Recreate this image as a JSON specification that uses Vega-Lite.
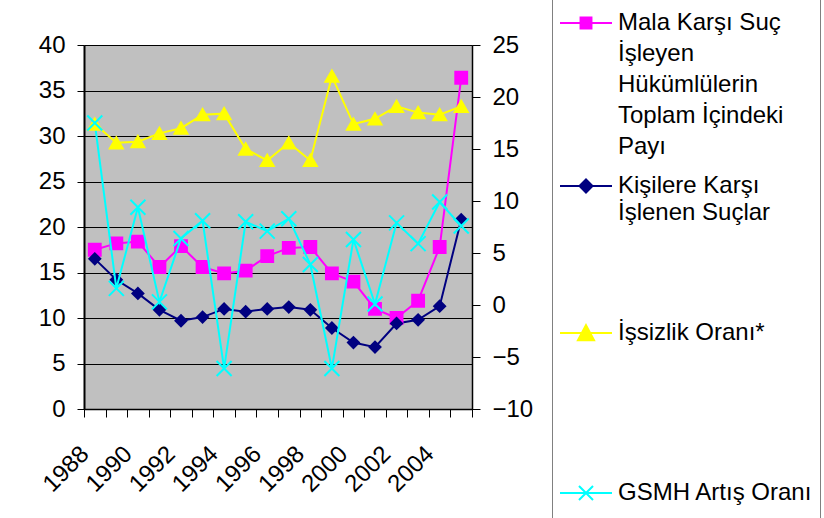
{
  "$schema": "https://vega.github.io/schema/vega-lite/v6.json",
  "width": 388,
  "height": 364,
  "autosize": {"type": "none"},
  "padding": {"left": 84, "top": 45, "right": 352, "bottom": 109},
  "background": "white",
  "view": {"fill": "#C0C0C0", "stroke": "#808080"},
  "config": {
    "axis": {"labelFont": "Liberation Sans", "labelFontSize": 24, "labelColor": "black", "domainColor": "black", "tickColor": "black", "titleFont": "Liberation Sans"},
    "legend": {"labelFont": "Liberation Sans", "labelFontSize": 24, "labelColor": "black"}
  },
  "data": {"values": [
    {"year": 1988, "mala": 17.5, "kisi": 16.5, "issiz": 17.4, "gsmh": 17.5},
    {"year": 1989, "mala": 18.2, "kisi": 14.2, "issiz": 15.6, "gsmh": 1.6},
    {"year": 1990, "mala": 18.4, "kisi": 12.7, "issiz": 15.7, "gsmh": 9.4},
    {"year": 1991, "mala": 15.6, "kisi": 10.9, "issiz": 16.5, "gsmh": 0.3},
    {"year": 1992, "mala": 17.9, "kisi": 9.7, "issiz": 17.0, "gsmh": 6.4},
    {"year": 1993, "mala": 15.6, "kisi": 10.1, "issiz": 18.3, "gsmh": 8.1},
    {"year": 1994, "mala": 14.9, "kisi": 11.0, "issiz": 18.4, "gsmh": -6.1},
    {"year": 1995, "mala": 15.2, "kisi": 10.7, "issiz": 15.0, "gsmh": 8.0},
    {"year": 1996, "mala": 16.8, "kisi": 11.0, "issiz": 13.9, "gsmh": 7.1},
    {"year": 1997, "mala": 17.7, "kisi": 11.2, "issiz": 15.6, "gsmh": 8.3},
    {"year": 1998, "mala": 17.8, "kisi": 10.9, "issiz": 13.9, "gsmh": 3.9},
    {"year": 1999, "mala": 14.9, "kisi": 8.9, "issiz": 22.0, "gsmh": -6.1},
    {"year": 2000, "mala": 14.0, "kisi": 7.3, "issiz": 17.4, "gsmh": 6.3},
    {"year": 2001, "mala": 11.0, "kisi": 6.8, "issiz": 17.9, "gsmh": 0.1},
    {"year": 2002, "mala": 10.0, "kisi": 9.4, "issiz": 19.1, "gsmh": 7.9},
    {"year": 2003, "mala": 11.9, "kisi": 9.8, "issiz": 18.5, "gsmh": 5.9},
    {"year": 2004, "mala": 17.8, "kisi": 11.3, "issiz": 18.3, "gsmh": 9.9},
    {"year": 2005, "mala": 36.4, "kisi": 20.8, "issiz": 19.1, "gsmh": 7.6}
  ]},
  "transform": [{"fold": ["mala", "kisi", "issiz", "gsmh"], "as": ["series", "value"]}],
  "encoding": {
    "x": {
      "field": "year", "type": "ordinal", "bandPosition": 0.5,
      "scale": {"type": "band", "paddingInner": 0, "paddingOuter": 0},
      "axis": {"title": null, "tickBand": "extent", "labelAngle": -45, "labelAlign": "right", "labelBaseline": "middle", "labelExpr": "datum.value % 2 === 0 ? datum.label : ''", "labelPadding": 33, "labelOffset": -10, "tickSize": 8, "domainWidth": 1.5, "grid": false, "labelOverlap": false}
    },
    "color": {
      "field": "series", "type": "nominal",
      "scale": {"domain": ["mala", "kisi", "issiz", "gsmh"], "range": ["#FF00FF", "#000080", "#FFFF00", "#00FFFF"]},
      "legend": {
        "title": null, "orient": "none", "legendX": 468, "legendY": -56, "direction": "vertical",
        "padding": 7, "strokeColor": "#808080", "fillColor": "white",
        "symbolSize": 2704, "symbolStrokeWidth": 2, "labelOffset": 5, "labelLimit": 400, "rowPadding": 0,
        "labelExpr": "datum.value === 'mala' ? ['Mala Karşı Suç','İşleyen','Hükümlülerin','Toplam İçindeki','Payı'] : datum.value === 'kisi' ? ['Kişilere Karşı','İşlenen Suçlar','','',''] : datum.value === 'issiz' ? ['İşsizlik Oranı*',''] : ['GSMH Artış Oranı     ','']",
        "encode": {
          "symbols": {"update": {
            "shape": {"signal": "datum.value === 'mala' ? 'M-1,0H1M-0.21,-0.21H0.21V0.21H-0.21Z' : datum.value === 'kisi' ? 'M-1,0H1M-0.25,0L0,-0.25L0.25,0L0,0.25Z' : datum.value === 'issiz' ? 'M-1,0H1M0,-0.3L0.31,0.28H-0.31Z' : 'M-1,0H1M-0.27,-0.27L0.27,0.27M-0.27,0.27L0.27,-0.27'"},
            "size": {"value": 2704},
            "fill": {"signal": "scale('color', datum.value)"},
            "stroke": {"signal": "scale('color', datum.value)"},
            "strokeWidth": {"value": 2},
            "opacity": {"value": 1}
          }},
          "labels": {"update": {
            "lineHeight": {"signal": "datum.value === 'kisi' ? 27 : datum.value === 'issiz' ? 121 : 31"}
          }}
        }
      }
    }
  },
  "layer": [
    {
      "transform": [{"filter": {"field": "series", "oneOf": ["mala", "kisi"]}}],
      "encoding": {
        "y": {"field": "value", "type": "quantitative", "scale": {"domain": [0, 40], "nice": false, "zero": false},
          "axis": {"orient": "left", "title": null, "values": [0, 5, 10, 15, 20, 25, 30, 35, 40], "grid": true, "gridColor": "black", "gridWidth": 1, "tickSize": 7, "labelPadding": 12, "domainWidth": 2}}
      },
      "layer": [
        {"mark": {"type": "line", "strokeWidth": 2}},
        {"transform": [{"filter": "datum.series === 'mala'"}],
          "mark": {"type": "point", "filled": true, "opacity": 1, "shape": "square", "size": 140, "stroke": "#FF00FF", "strokeWidth": 2}},
        {"transform": [{"filter": "datum.series === 'kisi'"}],
          "mark": {"type": "point", "filled": true, "opacity": 1, "shape": "diamond", "size": 121, "stroke": "#000080", "strokeWidth": 2}}
      ]
    },
    {
      "transform": [{"filter": {"field": "series", "oneOf": ["issiz", "gsmh"]}}],
      "encoding": {
        "y": {"field": "value", "type": "quantitative", "scale": {"domain": [-10, 25], "nice": false, "zero": false},
          "axis": {"orient": "right", "title": null, "values": [-10, -5, 0, 5, 10, 15, 20, 25], "grid": false, "tickSize": 8, "labelPadding": 12, "domainWidth": 1.5}}
      },
      "layer": [
        {"mark": {"type": "line", "strokeWidth": 2}},
        {"transform": [{"filter": "datum.series === 'issiz'"}],
          "mark": {"type": "point", "filled": true, "opacity": 1, "shape": "triangle-up", "size": 169, "stroke": "#FFFF00", "strokeWidth": 2}},
        {"transform": [{"filter": "datum.series === 'gsmh'"}],
          "mark": {"type": "point", "filled": true, "opacity": 1, "shape": "M-1,-1L1,1M-1,1L1,-1", "size": 225, "stroke": "#00FFFF", "strokeWidth": 2}}
      ]
    }
  ],
  "resolve": {"scale": {"y": "independent"}}
}
